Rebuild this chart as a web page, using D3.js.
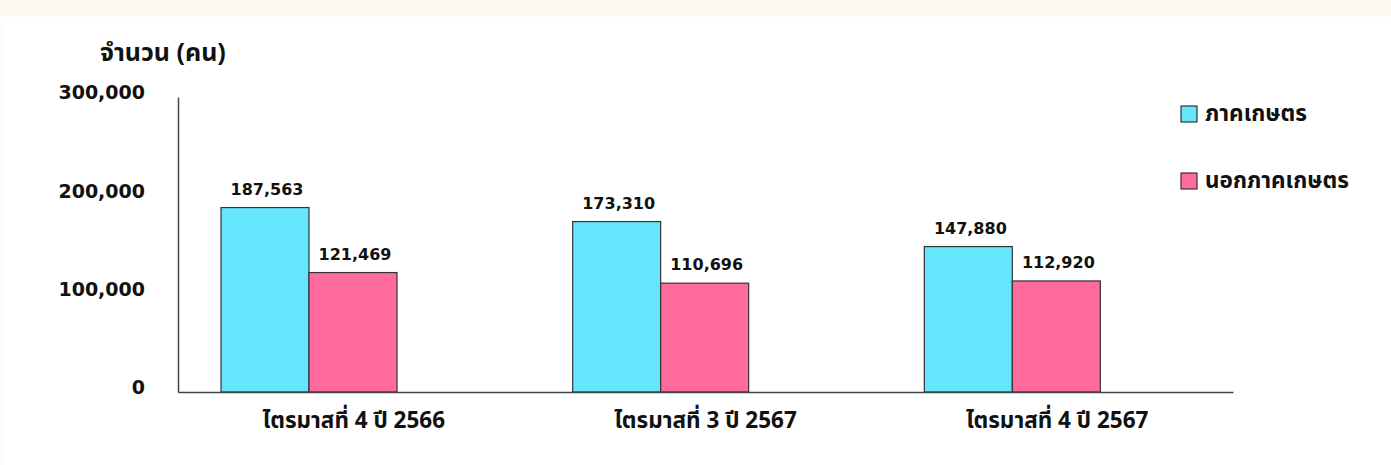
<!DOCTYPE html>
<html>
<head>
<meta charset="utf-8">
<script src="https://cdn.jsdelivr.net/npm/d3@7"></script>
<style>
  html, body { margin: 0; padding: 0; background: #fdfdfd; }
  svg { display: block; }
</style>
</head>
<body>
<svg id="chart" width="1391" height="465"></svg>
<script>
const categories = ["ไตรมาสที่ 4 ปี 2566", "ไตรมาสที่ 3 ปี 2567", "ไตรมาสที่ 4 ปี 2567"];
const seriesNames = ["ภาคเกษตร", "นอกภาคเกษตร"];
const agriculture = [187563, 173310, 147880];
const nonAgriculture = [121469, 110696, 112920];
const yTicks = [0, 100000, 200000, 300000];
const yTitle = "จำนวน (คน)";

(function () {
const colors = ["#66e6fc", "#ff6b9f"];
const thaiFont = "'Noto Sans Thai', 'Noto Sans', 'DejaVu Sans', sans-serif";
const numFont = "'DejaVu Sans', sans-serif";

const svg = d3.select("#chart");
const W = 1391, H = 465;

// background
svg.append("rect").attr("x", 0).attr("y", 0).attr("width", W).attr("height", H).attr("fill", "#fdfdfd");
svg.append("rect").attr("x", 5).attr("y", 17).attr("width", W - 5).attr("height", H - 17).attr("fill", "#ffffff");
svg.append("rect").attr("x", 0).attr("y", 0).attr("width", W).attr("height", 17).attr("fill", "#fff9f4");

const mLeft = 178, mRight = 1233, mTop = 97, mBottom = 392;

const x0 = d3.scaleBand().domain(categories).range([mLeft, mRight]).padding(0);
const groupOffset = 43, groupWidth = 176;
const x1 = d3.scaleBand().domain(seriesNames).range([0, groupWidth]).padding(0);
const y = d3.scaleLinear().domain([0, 300000]).range([mBottom, mTop]);

const data = categories.map((c, i) => ({
  cat: c,
  values: [
    { series: seriesNames[0], value: agriculture[i] },
    { series: seriesNames[1], value: nonAgriculture[i] }
  ]
}));

// y axis
const yAxis = d3.axisLeft(y).tickValues(yTicks).tickSize(0).tickPadding(33)
  .tickFormat(d3.format(","));
const gy = svg.append("g").attr("transform", `translate(${mLeft},0)`).call(yAxis);
gy.select(".domain").attr("stroke", "#444").attr("stroke-width", 1.5);
gy.selectAll("text").attr("font-family", numFont).attr("font-weight", "bold")
  .attr("font-size", 19).attr("fill", "#111").attr("dy", "0.1em");

// bars
const groups = svg.append("g").selectAll("g").data(data).join("g")
  .attr("transform", d => `translate(${x0(d.cat) + groupOffset},0)`);

groups.selectAll("rect").data(d => d.values).join("rect")
  .attr("x", d => x1(d.series))
  .attr("y", d => y(d.value))
  .attr("width", x1.bandwidth())
  .attr("height", d => y(0) - y(d.value))
  .attr("fill", (d, i) => colors[i])
  .attr("stroke", "#333")
  .attr("stroke-width", 1.2);

groups.selectAll("text.val").data(d => d.values).join("text")
  .attr("class", "val")
  .attr("x", d => x1(d.series) + x1.bandwidth() / 2 + 2)
  .attr("y", d => y(d.value) - 13)
  .attr("text-anchor", "middle")
  .attr("font-family", numFont).attr("font-weight", "bold")
  .attr("font-size", 16).attr("fill", "#111")
  .text(d => d3.format(",")(d.value));

// x axis
const xAxis = d3.axisBottom(x0).tickSize(0).tickPadding(20);
const gx = svg.append("g").attr("transform", `translate(0,${mBottom})`).call(xAxis);
gx.select(".domain").attr("stroke", "#444").attr("stroke-width", 1.5);
gx.selectAll("text").attr("font-family", thaiFont).attr("font-weight", "bold")
  .attr("font-size", 22.5).attr("fill", "#111");

// y title
svg.append("text").attr("x", 100).attr("y", 61)
  .attr("font-family", thaiFont).attr("font-weight", "bold")
  .attr("font-size", 25).attr("fill", "#111").text(yTitle);

// legend
const legend = svg.append("g").selectAll("g").data(seriesNames).join("g")
  .attr("transform", (d, i) => `translate(1181,${106 + i * 67})`);
legend.append("rect").attr("width", 16).attr("height", 16)
  .attr("fill", (d, i) => colors[i]).attr("stroke", "#333").attr("stroke-width", 1.2);
legend.append("text").attr("x", 24).attr("y", 15)
  .attr("font-family", thaiFont).attr("font-weight", "bold")
  .attr("font-size", 22.5).attr("fill", "#111").text(d => d);
})();
</script>
</body>
</html>
